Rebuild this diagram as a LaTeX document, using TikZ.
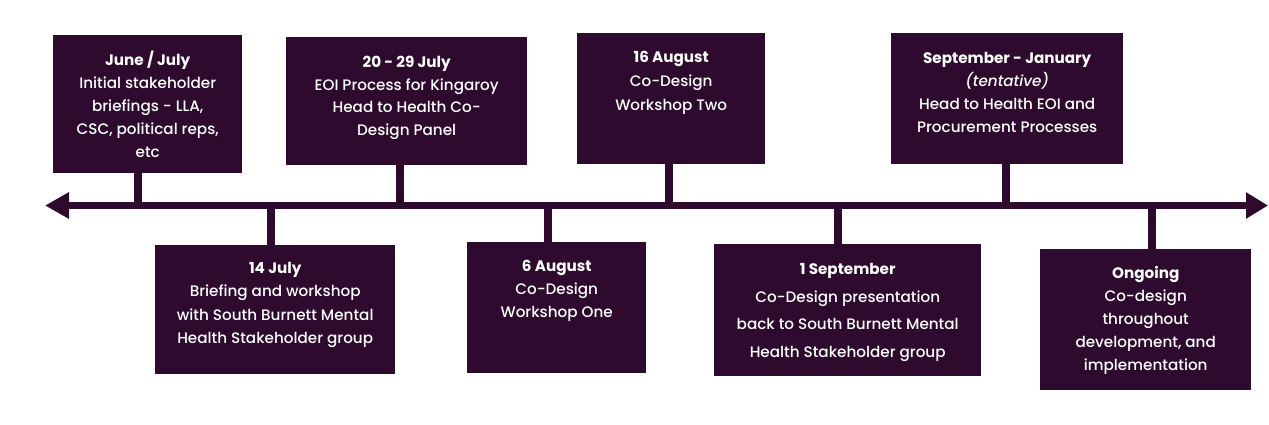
\documentclass[tikz,border=0pt]{standalone}
\usepackage{fontspec}
\setmainfont{Poppins}[UprightFont=* Medium, BoldFont=* Bold, ItalicFont=* Medium Italic, BoldItalicFont=* Bold Italic]
\usetikzlibrary{arrows.meta}
\definecolor{evpurple}{RGB}{46,10,46}
\tikzset{
  x=1pt, y=1pt,
  evbox/.style={fill=evpurple, draw=none, inner sep=0pt, anchor=north west},
  evtext/.style={text=white, align=center, inner sep=0pt, anchor=north,
                 font=\fontsize{15.2}{23}\selectfont},
  axis/.style={draw=evpurple, line width=7pt,
               {Triangle[length=24pt,width=25pt]}-{Triangle[length=22pt,width=25pt]}},
  stem/.style={draw=evpurple, line width=8pt}
}
\newcommand{\evbox}[5]{% name, left, top, right, bottom
  \node[evbox, minimum width={#4-#2}, minimum height={#5-#3}] (#1) at (#2,-#3) {};}
\begin{document}
\begin{tikzpicture}
\useasboundingbox (0,0) rectangle (1269,-425);

% timeline axis
\coordinate (L) at (45,-205.5);
\coordinate (R) at (1268,-205.5);
\draw[axis] (L) -- (R);

% events above the axis
\evbox{b1}{53}{35}{242}{173}
\evbox{b2}{286}{37}{527}{165}
\evbox{b3}{577}{33}{765}{164}
\evbox{b4}{891}{33}{1123}{164}
% events below the axis
\evbox{b5}{155}{245}{395}{374}
\evbox{b6}{467}{242}{646}{373}
\evbox{b7}{714}{244}{981}{376}
\evbox{b8}{1040}{249}{1251}{390}

% stems joining events to the axis
\coordinate (s1) at (137.5,-205.5);
\coordinate (s2) at (400,-205.5);
\coordinate (s3) at (669,-205.5);
\coordinate (s4) at (1006,-205.5);
\coordinate (s5) at (271,-205.5);
\coordinate (s6) at (548,-205.5);
\coordinate (s7) at (838,-205.5);
\coordinate (s8) at (1152,-205.5);
\foreach \i in {1,...,8} {\draw[stem] (s\i) -- (s\i |- b\i.center) ;}
\foreach \i in {1,...,8} {\fill[evpurple] (b\i.north west) rectangle (b\i.south east);}

% event texts
\node[evtext] (t1) at ([yshift=-16]b1.north) {\textbf{June / July}\\Initial stakeholder\\briefings - LLA,\\CSC, political reps,\\etc};
\node[evtext, font=\fontsize{15.2}{22.5}\selectfont] (t2) at ([yshift=-19]b2.north) {\textbf{20 - 29 July}\\EOI Process for Kingaroy\\Head to Health Co-\\Design Panel};
\node[evtext, font=\fontsize{15.2}{24}\selectfont] (t3) at ([yshift=-18]b3.north) {\textbf{16 August}\\Co-Design\\Workshop Two};
\node[evtext] (t4) at ([yshift=-19]b4.north) {\textbf{September - January}\\\textit{(tentative)}\\Head to Health EOI and\\Procurement Processes};
\node[evtext, font=\fontsize{15.2}{23.5}\selectfont] (t5) at ([yshift=-17]b5.north) {\textbf{14 July}\\Briefing and workshop\\with South Burnett Mental\\Health Stakeholder group};
\node[evtext] (t6) at ([yshift=-18]b6.north) {\textbf{6 August}\\Co-Design\\Workshop One};
\node[evtext, font=\fontsize{15.2}{27.7}\selectfont] (t7) at ([yshift=-19]b7.north) {\textbf{1 September}\\Co-Design presentation\\back to South Burnett Mental\\Health Stakeholder group};
\node[evtext] (t8) at ([yshift=-17]b8.north) {\textbf{Ongoing}\\Co-design\\throughout\\development, and\\implementation};
\end{tikzpicture}
\end{document}
